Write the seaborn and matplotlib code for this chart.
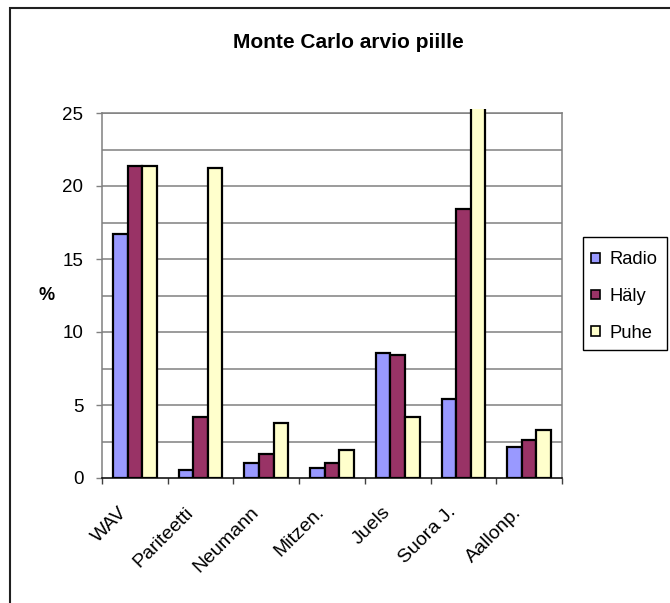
import matplotlib
matplotlib.use("Agg")
import matplotlib.pyplot as plt
from matplotlib.patches import Rectangle
from matplotlib.transforms import ScaledTranslation
import numpy as np
import pandas as pd
import seaborn as sns

categories = ["WAV", "Pariteetti", "Neumann", "Mitzen.", "Juels", "Suora J.", "Aallonp."]
radio = [16.7, 0.55, 1.0, 0.7, 8.55, 5.4, 2.1]
haly = [21.4, 4.15, 1.65, 1.0, 8.4, 18.4, 2.6]
puhe = [21.4, 21.25, 3.75, 1.95, 4.15, 27.0, 3.3]
series_names = ["Radio", "Häly", "Puhe"]
colors = ["#9999FF", "#993366", "#FFFFCC"]
y_ticks = [0, 5, 10, 15, 20, 25]

df = pd.DataFrame({
    "kategoria": categories * 3,
    "arvo": radio + haly + puhe,
    "sarja": [s for s in series_names for _ in categories],
})

sns.set_style("white")
plt.rcParams["font.family"] = ["Liberation Sans", "DejaVu Sans"]
plt.rcParams["text.color"] = "black"
plt.rcParams["xtick.labelcolor"] = "black"
plt.rcParams["ytick.labelcolor"] = "black"

W, H = 670, 603
fig = plt.figure(figsize=(W / 100, H / 100), dpi=100)
ax = fig.add_axes([102 / W, 1 - 478 / H, 460 / W, 365 / H])

sns.barplot(data=df, x="kategoria", y="arvo", hue="sarja", palette=colors,
            order=categories, hue_order=series_names, width=0.667, gap=0,
            saturation=1, edgecolor="black", linewidth=1.6, ax=ax, legend=True,
            errorbar=None, zorder=3)

ax.set_ylim(0, 25)
ax.set_xlim(-0.5, len(categories) - 0.5)

# horizontal gridlines every 2.5
for yv in np.arange(2.5, 25.01, 2.5):
    ax.axhline(yv, color="#808080", lw=1.1, zorder=1)

# the off-scale bar runs slightly past the top of the plot area
clip = Rectangle((0, 0), 1, 1.012, transform=ax.transAxes)
for p in ax.patches:
    if p.get_height() > 25:
        p.set_clip_path(clip)

for side in ["left", "top", "right"]:
    ax.spines[side].set_color("#808080")
    ax.spines[side].set_linewidth(1.1)
ax.spines["bottom"].set_color("black")
ax.spines["bottom"].set_linewidth(1.1)
ax.spines["bottom"].set_zorder(4)

ax.set_yticks(y_ticks)
ax.set_yticklabels([str(v) for v in y_ticks], fontsize=13.5)
ax.tick_params(axis="y", length=4.5, width=1, color="#808080", pad=9, left=True)

ax.set_xticks(range(len(categories)))
ax.set_xticklabels(categories, fontsize=14, rotation=45, ha="right",
                   va="top", rotation_mode="anchor")
ax.tick_params(axis="x", length=0, pad=7)
shift = ScaledTranslation(-16 / 100, -16 / 100, fig.dpi_scale_trans)
for lbl in ax.get_xticklabels():
    lbl.set_transform(lbl.get_transform() + shift)
ax.set_xticks(np.arange(-0.5, len(categories), 1), minor=True)
ax.tick_params(axis="x", which="minor", length=4.5, width=1, color="#404040",
               bottom=True)

ax.set_xlabel("")
ax.set_ylabel("")
fig.text(47 / W, 1 - 296 / H, "%", fontsize=13, fontweight="bold",
         ha="center", va="center")
fig.text(348 / W, 1 - 43 / H, "Monte Carlo arvio piille", fontsize=15,
         fontweight="bold", ha="center", va="center")

handles, labels = ax.get_legend_handles_labels()
ax.get_legend().remove()
leg = fig.legend(handles, labels, loc="upper left",
                 bbox_to_anchor=(583 / W, 1 - 243 / H), fontsize=13.2,
                 frameon=False,
                 handlelength=0.45, handleheight=0.45, handletextpad=0.55,
                 labelspacing=1.08, borderpad=0.45, borderaxespad=0)
for h in leg.legend_handles:
    h.set_edgecolor("black")
    h.set_linewidth(1.2)

# legend box
fig.add_artist(Rectangle((583 / W, 1 - 350 / H), 84 / W, 113 / H,
                         transform=fig.transFigure, fill=False,
                         edgecolor="black", lw=1.0))

# chart area border
fig.add_artist(Rectangle((10 / W, -0.1), 1.2, 1 - 8 / H + 0.1,
                         transform=fig.transFigure, fill=False,
                         edgecolor="#202020", lw=1.5))

fig.savefig("out.png", dpi=100)
